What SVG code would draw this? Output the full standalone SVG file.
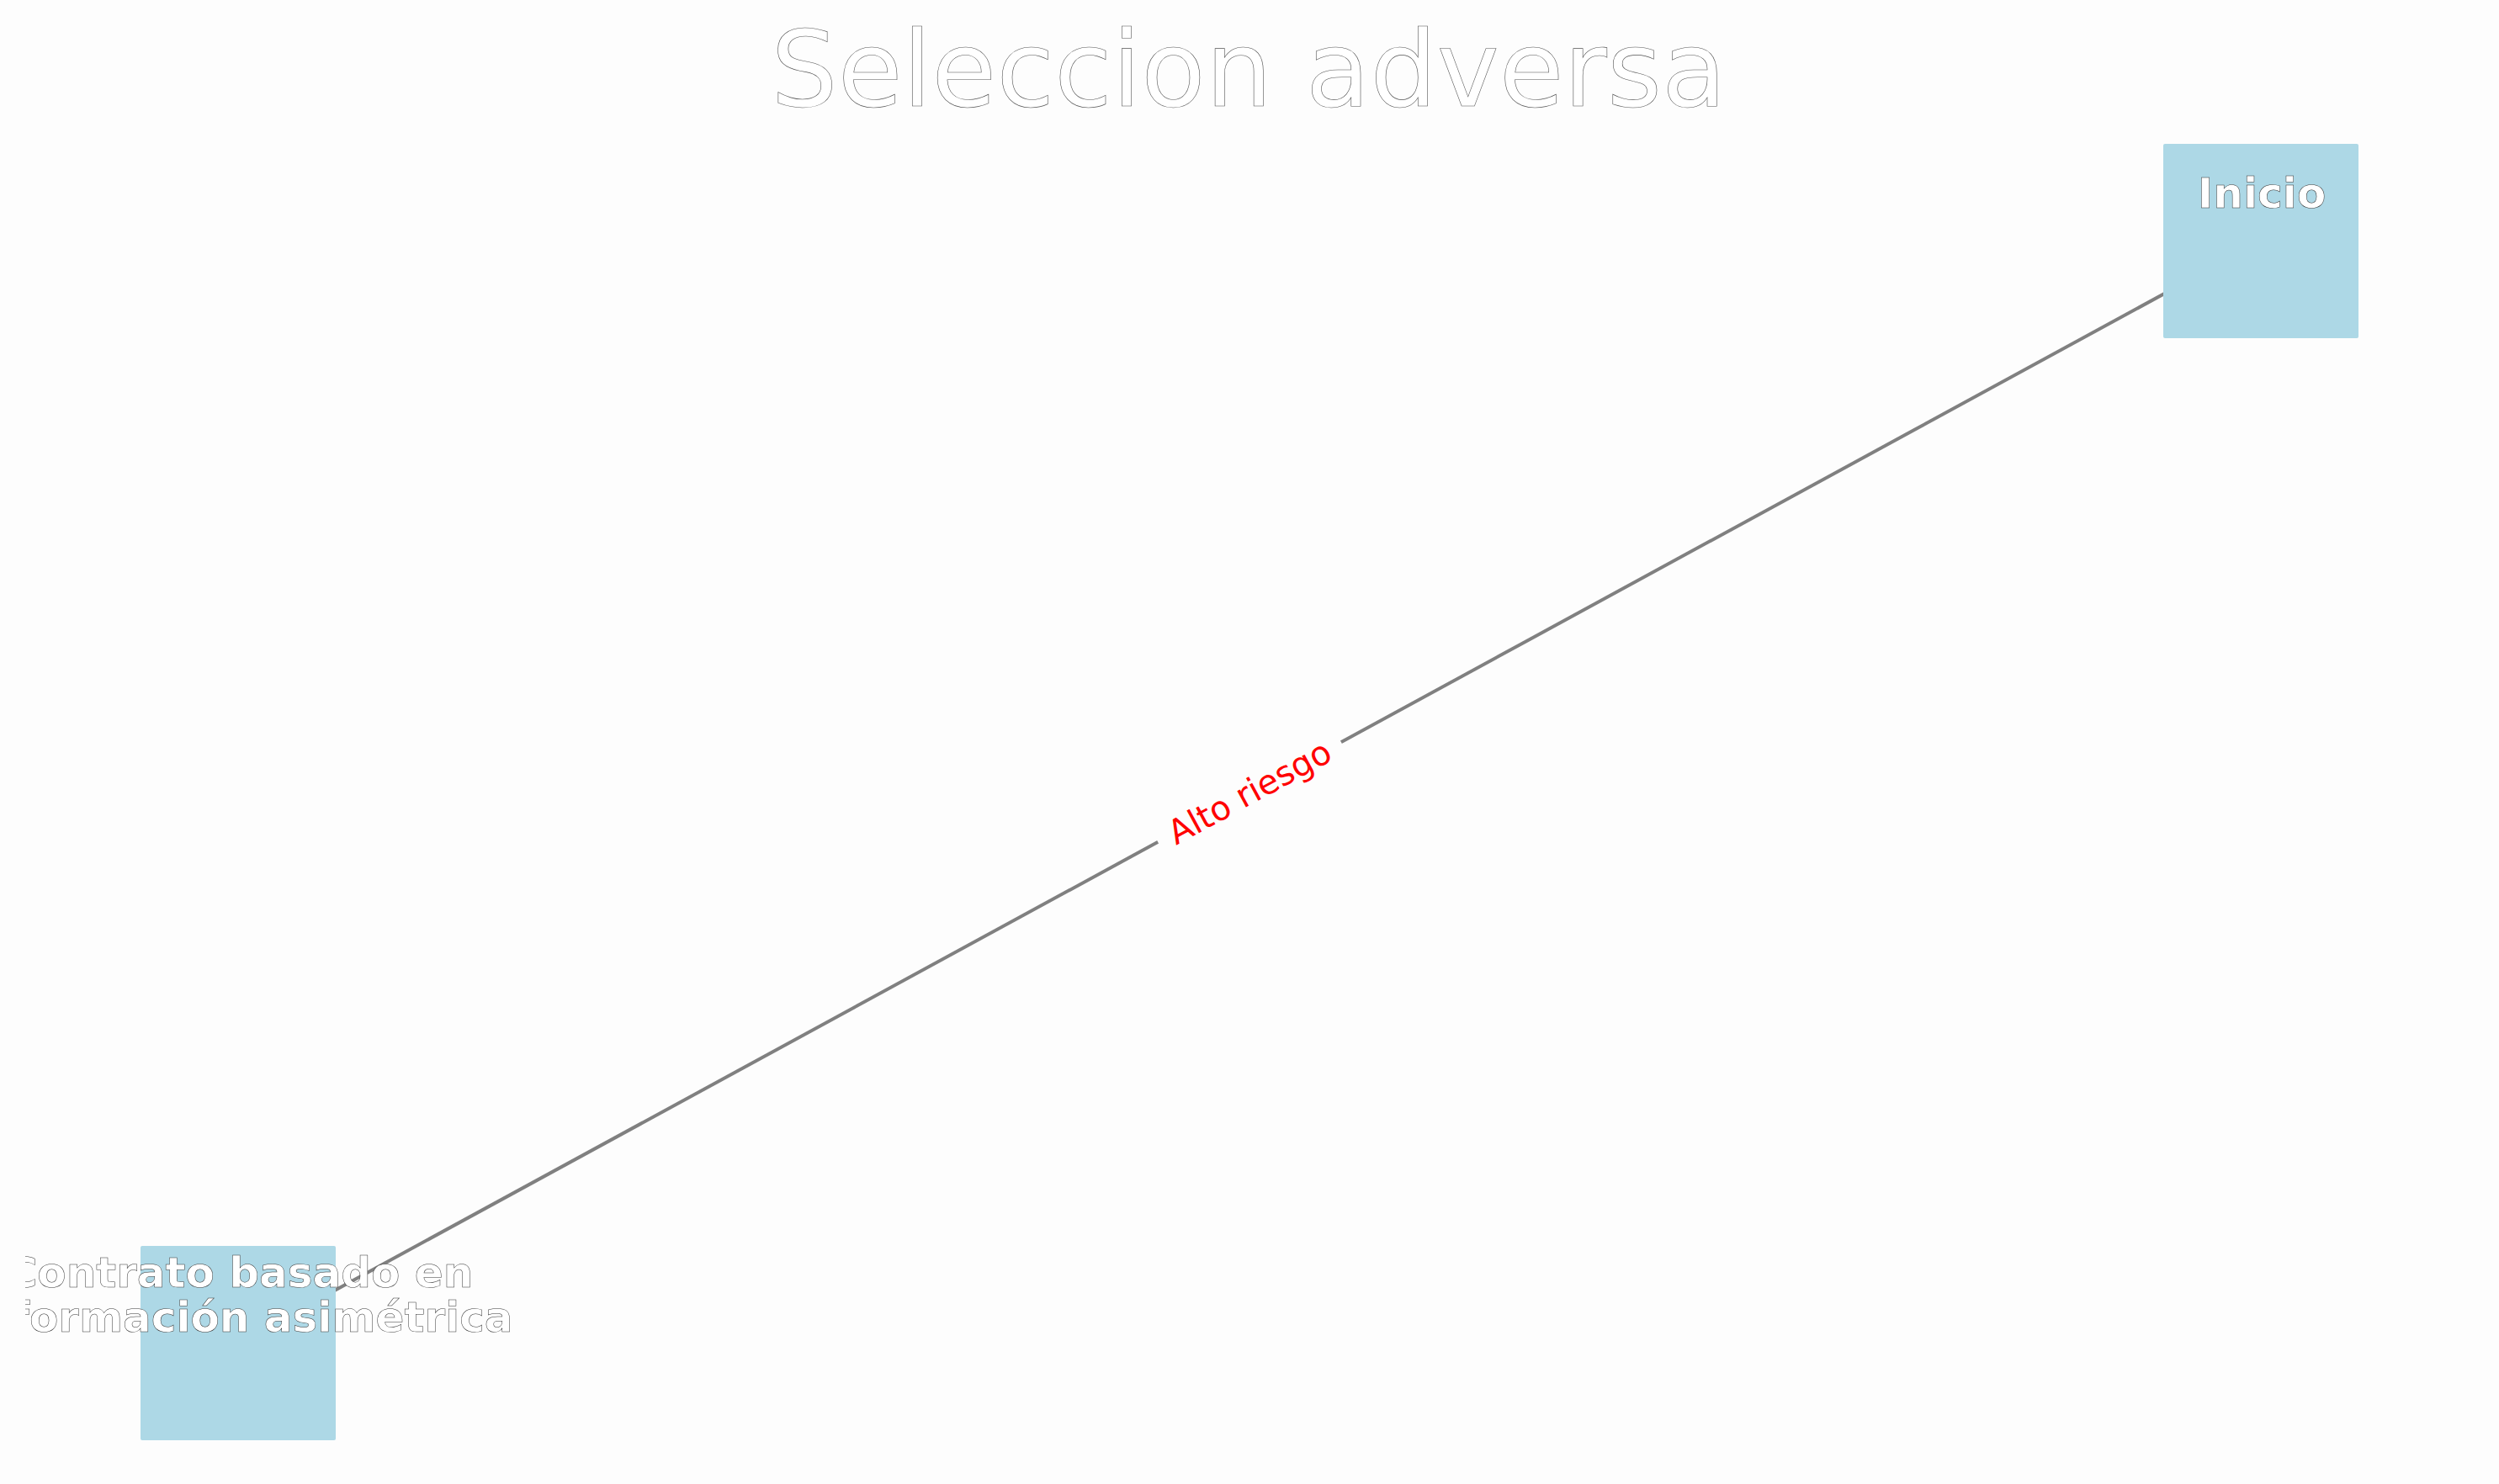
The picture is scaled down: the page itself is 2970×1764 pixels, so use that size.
<svg xmlns="http://www.w3.org/2000/svg" width="2970" height="1764" viewBox="0 0 2970 1764">
  <defs>
    <style>
      .node rect { fill: #add8e6; }
      .ntext { font-family: "DejaVu Sans", sans-serif; font-weight: bold; font-size: 50px; fill: #ffffff; stroke: #333333; stroke-width: 0.5; text-anchor: middle; }
      .title { font-family: "DejaVu Sans", sans-serif; font-size: 125px; fill: #ffffff; stroke: #555555; stroke-width: 0.6; text-anchor: middle; }
      .elabel { font-family: "DejaVu Sans", sans-serif; font-size: 40px; fill: #ff0000; text-anchor: middle; }
    </style>
    <clipPath id="axclip">
      <rect x="30" y="0" width="2940" height="1764"/>
    </clipPath>
  </defs>
  <rect x="0" y="0" width="2970" height="1764" fill="#fdfdfd"/>
  <text class="title" x="1484" y="126">Seleccion adversa</text>

  <g id="connectors">
    <line x1="283" y1="1596.5" x2="2687" y2="286.5" stroke="#808080" stroke-width="4"/>
    <g transform="translate(1485,941.5) rotate(-28.59)">
      <rect x="-124" y="-30" width="248" height="60" fill="#fdfdfd"/>
      <text class="elabel" x="0" y="14">Alto riesgo</text>
    </g>
  </g>

  <g id="node-inicio" class="node">
    <rect x="2571" y="171" width="232" height="231" rx="2"/>
    <text class="ntext" x="2688" y="247">Inicio</text>
  </g>

  <g id="node-contrato" class="node">
    <rect x="167" y="1481" width="232" height="231" rx="2"/>
    <g clip-path="url(#axclip)">
      <text class="ntext" x="285" y="1530">Contrato basado en</text>
      <text class="ntext" x="285" y="1583">información asimétrica</text>
    </g>
  </g>
</svg>
